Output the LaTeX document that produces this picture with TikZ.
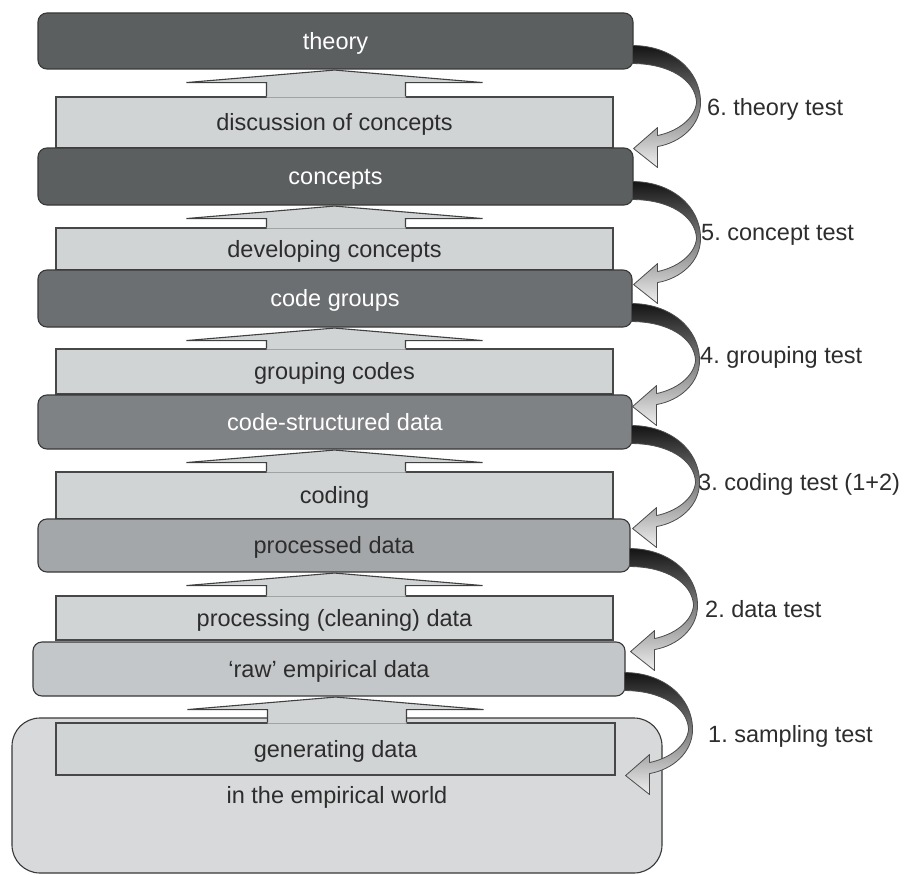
\documentclass[tikz,border=0pt]{standalone}
\usepackage{fontspec}
\setmainfont{Liberation Sans}
\usetikzlibrary{calc}
\frenchspacing
\definecolor{cA}{RGB}{92,95,96}
\definecolor{cB}{RGB}{108,111,113}
\definecolor{cC}{RGB}{127,130,132}
\definecolor{cD}{RGB}{164,167,169}
\definecolor{cE}{RGB}{196,199,201}
\definecolor{cW}{RGB}{215,217,218}
\definecolor{cL}{RGB}{209,212,213}
\definecolor{cT}{RGB}{45,45,45}
\newcommand\wedgearr[2]{%
  \coordinate (ap) at (#2.north |- #1.south);
  \coordinate (w) at ($(ap)+(0,13)$);
  \fill[cL] ($(#2.north)+(-68,1.2)$) -- ($(w)+(-68,0)$) -- ($(w)+(-148,0)$) -- ($(ap)+(0,0.5)$) -- ($(w)+(148,0)$) -- ($(w)+(71,0)$) -- ($(#2.north)+(71,1.2)$) -- cycle;
  \draw[edgeline] ($(#2.north)+(-68,0)$) -- ($(w)+(-68,0)$) -- ($(w)+(-148,0)$) -- ($(ap)+(0,0.5)$) -- ($(w)+(148,0)$) -- ($(w)+(71,0)$) -- ($(#2.north)+(71,0)$);}
\newcommand\curvarr[2]{%
  \coordinate (#2) at ($(#1.south east)+(-1,-24)$);
  \begin{scope}[shift={(#2)}]
  \shadedraw[top color=black!92, middle color=black!72, bottom color=black!6, draw=black!70, line width=0.8pt, line join=round]
    (0,0) .. controls (38,0) and (68,24) .. (68,57)
    .. controls (68,80) and (48,97) .. (25,101) -- (25,122) -- (1,103) -- (25,82) -- (25,90)
    .. controls (44,86) and (62,74) .. (64,57)
    .. controls (63,34) and (36,18) .. (0,18) -- cycle;
  \end{scope}}
\begin{document}
\begin{tikzpicture}[x=1pt,y=-1pt,
  txt/.style={font=\fontsize{23.5}{28}\selectfont, text height=19pt, text depth=3pt, inner sep=2pt},
  statebox/.style={draw=black!78, line width=1.1pt, rounded corners=9pt, txt},
  procbox/.style={draw=black!72, line width=1.1pt, fill=cL, txt, text=cT},
  edgeline/.style={draw=black!75, line width=1.1pt, line join=miter},
  lbl/.style={font=\fontsize{23.5}{28}\selectfont, anchor=base west, inner sep=0pt, text=cT},
]
\useasboundingbox (0,0) rectangle (910,875);
\fill[white] (0,0) rectangle (910,875);

% empirical world
\node[statebox, fill=cW, text=cT, rounded corners=28pt, minimum width=650, minimum height=155] (world) at (337,795.5) {in the empirical world};

% process boxes
\node[procbox, minimum width=557, minimum height=51] (disc) at (334.5,122.5) {discussion of concepts};
\node[procbox, minimum width=557, minimum height=42] (devc) at (334.5,249) {developing concepts};
\node[procbox, minimum width=557, minimum height=45] (grpc) at (334.5,371.5) {grouping codes};
\node[procbox, minimum width=557, minimum height=47] (codg) at (334.5,495.5) {coding};
\node[procbox, minimum width=557, minimum height=44] (proc) at (334.5,618) {processing (cleaning) data};
\node[procbox, minimum width=559, minimum height=52] (gend) at (335.5,749) {generating data};

% state boxes
\node[statebox, fill=cA, text=white, minimum width=595, minimum height=56] (theory) at (335.5,41) {theory};
\node[statebox, fill=cA, text=white, minimum width=595, minimum height=57] (conc) at (335.5,176.5) {concepts};
\node[statebox, fill=cB, text=white, minimum width=594, minimum height=57] (cgrp) at (335,298.5) {code groups};
\node[statebox, fill=cC, text=white, minimum width=594, minimum height=54] (csd) at (335,422) {code-structured data};
\node[statebox, fill=cD, text=cT, minimum width=592, minimum height=53] (pdat) at (334,545.5) {processed data};
\node[statebox, fill=cE, text=cT, minimum width=592, minimum height=54] (raw) at (329,669) {`raw' empirical data};

% wedge arrows
\wedgearr{theory}{disc}
\wedgearr{conc}{devc}
\wedgearr{cgrp}{grpc}
\wedgearr{csd}{codg}
\wedgearr{pdat}{proc}
\wedgearr{raw}{gend}

% curved test arrows
\curvarr{theory}{s6}
\curvarr{conc}{s5}
\curvarr{cgrp}{s4}
\curvarr{csd}{s3}
\curvarr{pdat}{s2}
\curvarr{raw}{s1}

% labels
\node[lbl] (l6) at (707,115) {6. theory test};
\node[lbl] (l5) at (701,240) {5. concept test};
\node[lbl] (l4) at (700,363) {4. grouping test};
\node[lbl] (l3) at (698,490) {3. coding test (1+2)};
\node[lbl] (l2) at (705,617) {2. data test};
\node[lbl] (l1) at (708,742) {1. sampling test};
\end{tikzpicture}
\end{document}
